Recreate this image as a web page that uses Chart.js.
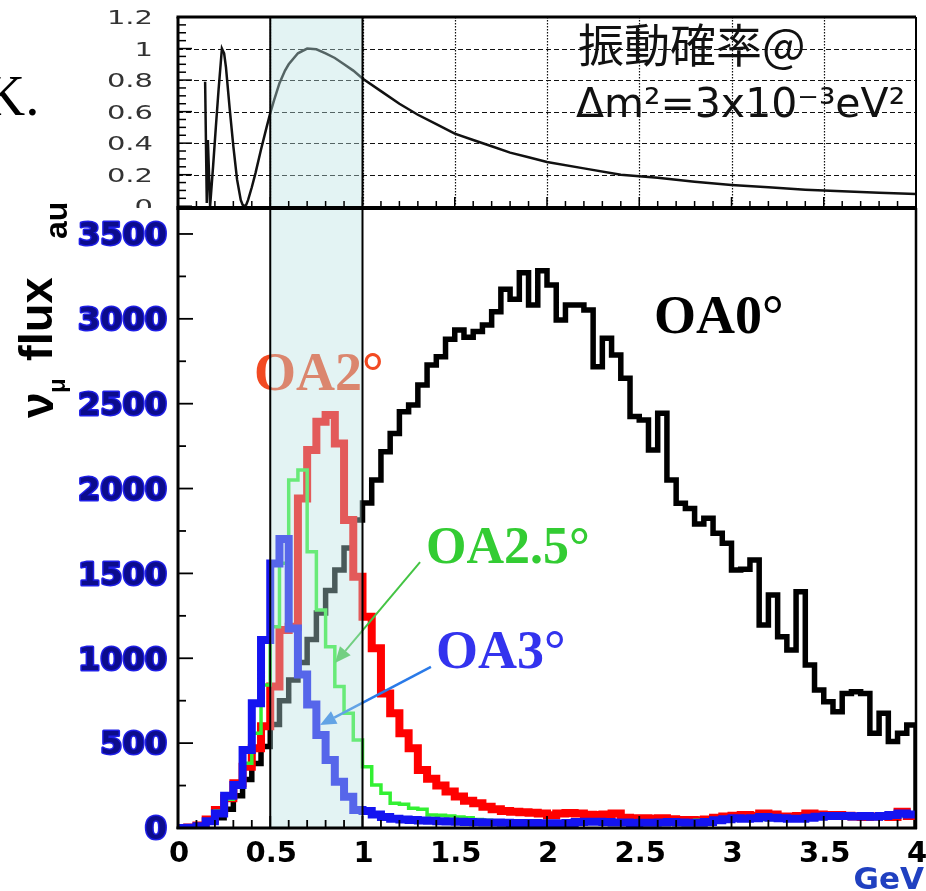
<!DOCTYPE html>
<html><head><meta charset="utf-8">
<script src="https://cdn.jsdelivr.net/npm/chart.js@4.4.1/dist/chart.umd.min.js"></script>
<style>
html,body{margin:0;padding:0;background:#fff;width:926px;height:891px;overflow:hidden;}
#topWrap{position:absolute;left:0;top:0;width:926px;height:208px;overflow:hidden;}
#botWrap{position:absolute;left:0;top:0;width:926px;height:891px;}
canvas{display:block;}
</style></head><body>
<div id="topWrap"><canvas id="top" width="926" height="208"></canvas></div>
<div id="botWrap"><canvas id="bot" width="926" height="891"></canvas></div>
<script>
// ---------- data ----------
const binStart = [0.00,0.05,0.10,0.15,0.20,0.25,0.30,0.35,0.40,0.45,0.50,0.55,0.60,0.65,0.70,0.75,0.80,0.85,0.90,0.95,
  1.00,1.05,1.10,1.15,1.20,1.25,1.30,1.35,1.40,1.45,1.50,1.55,1.60,1.65,1.70,1.75,1.80,1.85,1.90,1.95,
  2.00,2.05,2.10,2.15,2.20,2.25,2.30,2.35,2.40,2.45,2.50,2.55,2.60,2.65,2.70,2.75,2.80,2.85,2.90,2.95,
  3.00,3.05,3.10,3.15,3.20,3.25,3.30,3.35,3.40,3.45,3.50,3.55,3.60,3.65,3.70,3.75,3.80,3.85,3.90,3.95];
const binEnd = 4.0;
const fluxOA0 = [0,5,15,35,60,110,190,285,380,480,610,750,872,975,1110,1267,1400,1520,1650,1815,
  1915,2050,2217,2325,2453,2492,2610,2728,2777,2879,2934,2891,2925,2964,3042,3174,3115,3272,3082,3284,
  3199,2993,3082,3082,3052,2718,2885,2787,2650,2424,2404,2227,2443,2050,1913,1883,1791,1825,1736,1677,
  1520,1525,1579,1196,1373,1127,1049,1392,960,813,744,685,793,803,793,558,676,509,558,607];
const fluxOA2 = [0,3,15,50,106,175,263,361,470,600,833,1167,1186,1942,2227,2394,2433,2266,1815,1481,
  1245,1059,793,676,558,470,342,290,250,215,185,160,145,125,110,100,96,92,90,86,
  75,86,88,86,78,77,80,86,60,57,57,55,57,52,47,47,45,50,60,67,
  72,77,72,86,80,67,67,70,86,80,77,77,72,67,65,67,70,65,96,71];
const fluxOA25 = [0,3,12,45,100,170,250,381,558,843,1186,1560,2050,2109,1628,1284,1068,833,676,518,
  361,253,204,145,140,116,110,77,75,70,65,60,50,45,42,40,38,36,34,32,
  30,30,32,32,35,33,30,30,28,28,30,30,32,32,35,40,45,48,50,50,
  50,52,52,50,50,55,58,60,62,62,62,60,62,65,65,68,65,70,72,70];
const fluxOA3 = [0,2,10,39,86,190,253,460,735,1108,1559,1703,1176,905,727,548,401,273,184,106,
  100,80,65,55,50,47,44,42,40,38,37,35,34,33,32,31,30,30,29,28,
  28,27,30,35,37,37,35,33,32,30,31,31,33,35,33,31,31,35,45,52,
  57,55,57,65,60,57,55,55,60,66,71,71,71,68,71,66,71,76,86,80];
// oscillation probability (top panel)
const probE = [0.147,0.156,0.162,0.174,0.19,0.205,0.22,0.238,0.25,0.26,0.28,0.30,0.32,0.34,0.35,0.36,0.37,0.38,0.40,0.42,
  0.45,0.48,0.50,0.52,0.55,0.58,0.60,0.65,0.70,0.75,0.80,0.85,0.90,0.95,1.00,1.10,1.20,1.30,1.40,1.50,
  1.60,1.70,1.80,1.90,2.00,2.20,2.40,2.60,2.80,3.00,3.20,3.40,3.60,3.80,4.00];
const probP = [0.79,0.02,0.42,0.0,0.25,0.5,0.74,1.0,0.97,0.88,0.62,0.38,0.17,0.04,0.01,0.0,0.01,0.04,0.12,0.21,
  0.36,0.50,0.59,0.67,0.78,0.86,0.90,0.97,1.0,0.995,0.97,0.94,0.90,0.86,0.81,0.73,0.65,0.58,0.52,0.46,
  0.42,0.38,0.34,0.31,0.28,0.24,0.20,0.18,0.155,0.135,0.12,0.105,0.095,0.085,0.077];
// ticks / labels
const eTicks = [0,0.5,1,1.5,2,2.5,3,3.5,4];
const eLabels = ['0','0.5','1','1.5','2','2.5','3','3.5','4'];
const probTicks = [0,0.2,0.4,0.6,0.8,1,1.2];
const probLabels = ['0','0.2','0.4','0.6','0.8','1','1.2'];
const fluxTicks = [0,500,1000,1500,2000,2500,3000,3500];
const fluxLabels = ['0','500','1000','1500','2000','2500','3000','3500'];
const bandRange = [0.5, 1.0];
// annotations (data coordinates)
const notes = [
  {text:'OA0°', x:2.58, y:2917, color:'#000000', size:54},
  {text:'OA2°', x:0.412, y:2581, color:'#f24a22', size:54},
  {text:'OA2.5°', x:1.344, y:1561, color:'#33cc33', size:52},
  {text:'OA3°', x:1.398, y:943, color:'#3333ee', size:54}
];
const arrows = [
  {from:[1.312,1567], to:[0.851,972], color:'#44c444', width:2},
  {from:[1.371,949], to:[0.770,607], color:'#2a7ae8', width:2.5}
];

// ---------- helpers ----------
function hist(vals, dropToZero){
  const pts = binStart.map((x,i)=>({x:x, y:vals[i]}));
  pts.push({x:binEnd, y:vals[vals.length-1]});
  if (dropToZero) pts.push({x:binEnd, y:0});
  return pts;
}
function line(ctx,x0,y0,x1,y1){ctx.beginPath();ctx.moveTo(x0,y0);ctx.lineTo(x1,y1);ctx.stroke();}
function drawBand(chart){
  const ctx=chart.ctx, ca=chart.chartArea, xs=chart.scales.x;
  const b0=xs.getPixelForValue(bandRange[0]), b1=xs.getPixelForValue(bandRange[1]);
  ctx.save();
  ctx.fillStyle='rgba(185,226,226,0.40)';
  ctx.fillRect(b0,ca.top,b1-b0,ca.bottom-ca.top);
  ctx.strokeStyle='#000'; ctx.lineWidth=2;
  line(ctx,b0,ca.top,b0,ca.bottom); line(ctx,b1,ca.top,b1,ca.bottom);
  ctx.restore();
}

const topPlugin = {
  id:'topPanel',
  beforeDatasetsDraw(chart){
    const ctx=chart.ctx, ca=chart.chartArea, xs=chart.scales.x, ys=chart.scales.y;
    ctx.save();
    ctx.strokeStyle='#111'; ctx.lineWidth=1;
    ctx.setLineDash([5,3]);
    probTicks.forEach(v=>{ if(v>0 && v<1.2){const y=Math.round(ys.getPixelForValue(v))+0.5; line(ctx,ca.left,y,ca.right,y);} });
    ctx.setLineDash([1.5,1.5]); ctx.lineWidth=1.2;
    eTicks.forEach(v=>{ if(v>0 && v<4){const x=Math.round(xs.getPixelForValue(v))+0.5; line(ctx,x,ca.top,x,ca.bottom);} });
    ctx.restore();
  },
  afterDatasetsDraw(chart){
    const ctx=chart.ctx, ca=chart.chartArea, xs=chart.scales.x, ys=chart.scales.y;
    drawBand(chart);
    ctx.save();
    ctx.strokeStyle='#000'; ctx.lineWidth=1.5;
    for(let k=0;k<=24;k++){const y=ys.getPixelForValue(k*0.05); const len=(k%4===0)?14:8; line(ctx,ca.left,y,ca.left+len,y);}
    for(let k=0;k<=40;k++){const x=xs.getPixelForValue(k*0.1); const len=(k%5===0)?10:6; line(ctx,x,ca.bottom,x,ca.bottom-len);}
    // frame
    ctx.lineWidth=3; line(ctx,ca.left-1.5,ca.top,ca.right,ca.top); line(ctx,ca.left,ca.top,ca.left,ca.bottom+2);
    ctx.lineWidth=2; line(ctx,ca.right,ca.top,ca.right,ca.bottom+2);
    // y labels
    ctx.fillStyle='#333'; ctx.font='20px "DejaVu Sans"'; ctx.textAlign='right'; ctx.textBaseline='middle';
    probTicks.forEach((v,i)=>{ const y=ys.getPixelForValue(v)+2; ctx.save(); ctx.translate(153,y); ctx.scale(1.45,1); ctx.fillText(probLabels[i],0,0); ctx.restore(); });
    // texts
    ctx.fillStyle='#000'; ctx.textAlign='left'; ctx.textBaseline='alphabetic';
    ctx.font='57px "Liberation Serif"'; ctx.fillText('K.',-16,115);
    ctx.fillStyle='#111';
    ctx.font='46px "Noto Sans CJK JP"'; ctx.fillText('振動確率@',578,62);
    ctx.font='41px "DejaVu Sans"'; ctx.fillText('Δm²=3x10⁻³eV²',576,117);
    ctx.restore();
  }
};

const botPlugin = {
  id:'botPanel',
  afterDatasetsDraw(chart){
    const ctx=chart.ctx, ca=chart.chartArea, xs=chart.scales.x, ys=chart.scales.y;
    ctx.save();
    // annotations
    ctx.textAlign='left'; ctx.textBaseline='alphabetic';
    notes.forEach(n=>{ ctx.fillStyle=n.color; ctx.font='bold '+n.size+'px "Liberation Serif"'; ctx.fillText(n.text, xs.getPixelForValue(n.x), ys.getPixelForValue(n.y)); });
    arrows.forEach(a=>{
      const x0=xs.getPixelForValue(a.from[0]), y0=ys.getPixelForValue(a.from[1]);
      const x1=xs.getPixelForValue(a.to[0]), y1=ys.getPixelForValue(a.to[1]);
      const ang=Math.atan2(y1-y0,x1-x0), L=16, W=7;
      const bx=x1-L*Math.cos(ang), by=y1-L*Math.sin(ang);
      ctx.strokeStyle=a.color; ctx.lineWidth=a.width; line(ctx,x0,y0,bx,by);
      ctx.fillStyle=a.color; ctx.beginPath(); ctx.moveTo(x1,y1);
      ctx.lineTo(bx+W*Math.sin(ang), by-W*Math.cos(ang)); ctx.lineTo(bx-W*Math.sin(ang), by+W*Math.cos(ang)); ctx.closePath(); ctx.fill();
    });
    ctx.restore();
    drawBand(chart);
    ctx.save();
    ctx.strokeStyle='#000'; ctx.lineWidth=1.8;
    for(let k=0;k<=14;k++){const y=ys.getPixelForValue(k*250); const len=(k%2===0)?15:8; line(ctx,ca.left,y,ca.left+len,y);}
    for(let k=0;k<=40;k++){const x=xs.getPixelForValue(k*0.1); const len=(k%5===0)?12:8; line(ctx,x,ca.bottom-1,x,ca.bottom-1-len);}
    // frame
    ctx.lineWidth=4; line(ctx,ca.left-1.5,ca.top,ca.right+1,ca.top);
    ctx.lineWidth=3; line(ctx,ca.left,ca.top,ca.left,ca.bottom); line(ctx,ca.left-1.5,ca.bottom-1,ca.right+1,ca.bottom-1);
    ctx.lineWidth=2.5; line(ctx,ca.right,ca.top,ca.right,ca.bottom);
    // y labels
    ctx.font='bold 32px "DejaVu Sans"'; ctx.textAlign='right'; ctx.textBaseline='middle'; ctx.lineJoin='round';
    fluxTicks.forEach((v,i)=>{ const y=ys.getPixelForValue(v)+3;
      ctx.strokeStyle='#1e1ee6'; ctx.lineWidth=3; ctx.strokeText(fluxLabels[i],167,y);
      ctx.fillStyle='#0c0c8c'; ctx.fillText(fluxLabels[i],167,y); });
    // x labels
    ctx.font='bold 29px "DejaVu Sans"'; ctx.textAlign='center'; ctx.textBaseline='alphabetic'; ctx.fillStyle='#000';
    eTicks.forEach((v,i)=>{ ctx.fillText(eLabels[i], xs.getPixelForValue(v)+1, 862); });
    ctx.font='bold 31px "DejaVu Sans"'; ctx.textAlign='right'; ctx.fillStyle='#2040c0';
    ctx.fillText('GeV',924,889);
    // rotated axis title
    ctx.fillStyle='#000'; ctx.textAlign='left'; ctx.textBaseline='alphabetic';
    const rot=(s,font,bx,sy)=>{ctx.save();ctx.translate(bx,sy);ctx.rotate(-Math.PI/2);ctx.font=font;ctx.fillText(s,0,0);ctx.restore();};
    rot('ν','bold 46px "Liberation Sans"',53,418);
    rot('μ','bold 24px "Liberation Sans"',65,393);
    rot('flux','bold 47px "Liberation Sans"',52,361);
    rot('au','bold 32px "Liberation Sans"',67,239);
    ctx.restore();
  }
};

const common = {responsive:false, animation:false, events:[], plugins:{legend:{display:false}, tooltip:{enabled:false}}};

new Chart(document.getElementById('top'), {
  type:'line',
  data:{datasets:[{data:probE.map((x,i)=>({x:x,y:probP[i]})), borderColor:'#111', borderWidth:2.5, pointRadius:0, tension:0, fill:false}]},
  options:Object.assign({}, common, {
    layout:{padding:{left:0,right:10,top:17,bottom:1}},
    scales:{
      x:{type:'linear',min:0,max:4,ticks:{display:false},grid:{display:false},border:{display:false},afterFit(s){s.height=0;}},
      y:{type:'linear',min:-0.005,max:1.2,ticks:{display:false},grid:{display:false},border:{display:false},afterFit(s){s.width=178;}}
    }
  }),
  plugins:[topPlugin]
});

const ds = (lab, vals, color, w, drop) => ({label:lab, data:hist(vals,drop), borderColor:color, borderWidth:w, stepped:true, pointRadius:0, fill:false, borderJoinStyle:'miter', borderCapStyle:'butt'});
new Chart(document.getElementById('bot'), {
  type:'line',
  data:{datasets:[
    ds('OA3°', fluxOA3, '#1414f0', 8, false),
    ds('OA2.5°', fluxOA25, '#33f033', 3.5, false),
    ds('OA2°', fluxOA2, '#ff0000', 8, false),
    ds('OA0°', fluxOA0, '#000000', 5.5, true)
  ]},
  options:Object.assign({}, common, {
    layout:{padding:{left:0,right:10,top:208,bottom:0}},
    scales:{
      x:{type:'linear',min:0,max:4,ticks:{display:false},grid:{display:false},border:{display:false},afterFit(s){s.height=62;}},
      y:{type:'linear',min:-6,max:3653,ticks:{display:false},grid:{display:false},border:{display:false},afterFit(s){s.width=178;}}
    }
  }),
  plugins:[botPlugin]
});
</script></body></html>
